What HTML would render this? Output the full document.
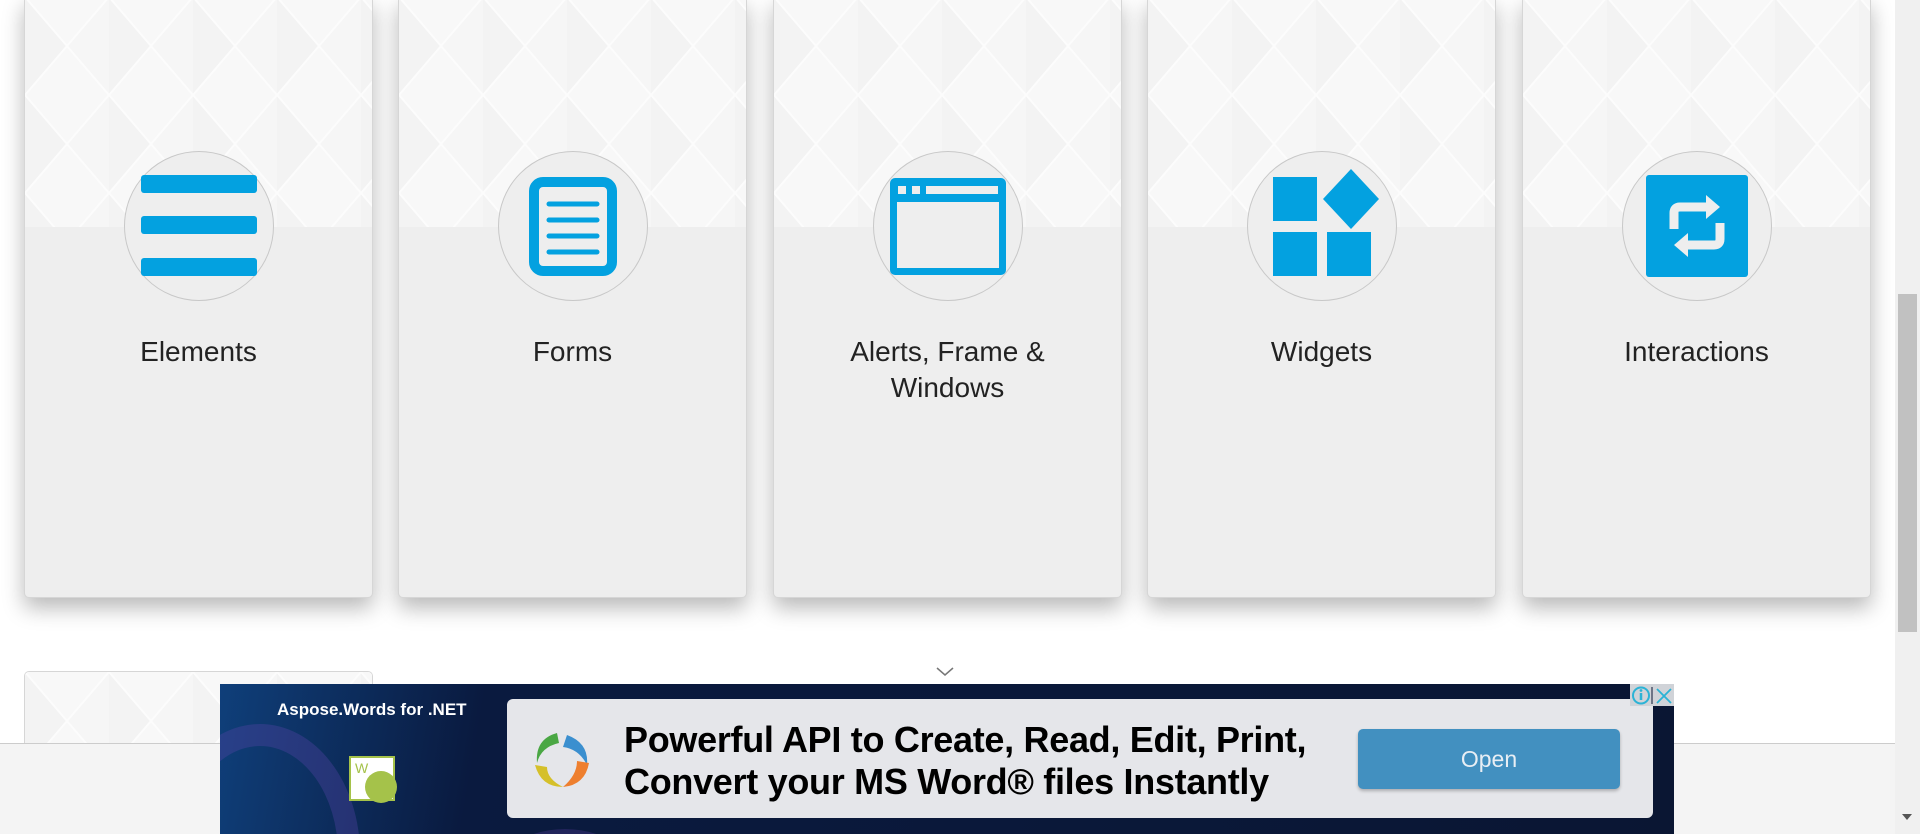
<!DOCTYPE html>
<html><head><meta charset="utf-8"><style>
*{margin:0;padding:0;box-sizing:border-box}
html,body{width:1920px;height:834px;overflow:hidden}
body{background:#fff;position:relative;font-family:"Liberation Sans",sans-serif}
.card{position:absolute;top:-4px;width:349px;height:602px;background:#eee;border:1px solid #d6d6d6;border-radius:5px;box-shadow:0 10px 22px rgba(0,0,0,.28);overflow:hidden}
.pat{position:absolute;left:0;top:0;width:100%;height:230px;background:#f8f8f8}
.circ{position:absolute;left:99px;top:154px;width:150px;height:150px;border-radius:50%;border:1px solid #c8c8c8;background:#eee}
.circ svg{position:absolute;left:-1px;top:-1px}
.t{position:absolute;left:0;width:100%;top:337px;text-align:center;font-size:28px;line-height:36px;color:#222}
</style></head><body>
<svg width="0" height="0" style="position:absolute"><defs>
<pattern id="tri" width="84" height="98" patternUnits="userSpaceOnUse">
<polygon points="0,0 42,49 0,98" fill="#efefef"/><polygon points="84,0 42,49 84,98" fill="#f4f4f4"/>
<line x1="0" y1="0" x2="84" y2="98" stroke="#fff" stroke-width="2"/><line x1="84" y1="0" x2="0" y2="98" stroke="#fff" stroke-width="2"/>
</pattern></defs></svg>

<div class="card" style="left:24px"><svg class="pat" width="349" height="230"><rect width="349" height="230" fill="#f8f8f8"/><rect width="349" height="230" fill="url(#tri)" opacity=".6"/></svg>
<div class="circ"><svg width="150" height="150"><rect x="17" y="24" width="116" height="18" rx="3" fill="#03a1e0"/><rect x="17" y="65" width="116" height="18" rx="3" fill="#03a1e0"/><rect x="17" y="107" width="116" height="18" rx="3" fill="#03a1e0"/></svg></div>
<div class="t">Elements</div></div>

<div class="card" style="left:398px"><svg class="pat" width="349" height="230"><rect width="349" height="230" fill="#f8f8f8"/><rect width="349" height="230" fill="url(#tri)" opacity=".6"/></svg>
<div class="circ"><svg width="150" height="150"><rect x="36" y="31" width="78" height="89" rx="9" fill="none" stroke="#03a1e0" stroke-width="10"/><g stroke="#03a1e0" stroke-width="5" stroke-linecap="round"><line x1="51" y1="53" x2="99" y2="53"/><line x1="51" y1="69" x2="99" y2="69"/><line x1="51" y1="85" x2="99" y2="85"/><line x1="51" y1="101" x2="99" y2="101"/></g></svg></div>
<div class="t">Forms</div></div>

<div class="card" style="left:773px"><svg class="pat" width="349" height="230"><rect width="349" height="230" fill="#f8f8f8"/><rect width="349" height="230" fill="url(#tri)" opacity=".6"/></svg>
<div class="circ"><svg width="150" height="150"><rect x="17" y="27" width="116" height="97" rx="5" fill="#03a1e0"/><rect x="24" y="51" width="102" height="66" fill="#eee"/><rect x="25" y="35" width="8" height="8" fill="#eee"/><rect x="39" y="35" width="8" height="8" fill="#eee"/><rect x="53" y="35" width="72" height="8" fill="#eee"/></svg></div>
<div class="t">Alerts, Frame &amp;<br>Windows</div></div>

<div class="card" style="left:1147px"><svg class="pat" width="349" height="230"><rect width="349" height="230" fill="#f8f8f8"/><rect width="349" height="230" fill="url(#tri)" opacity=".6"/></svg>
<div class="circ"><svg width="150" height="150"><rect x="26" y="26" width="44" height="44" fill="#03a1e0"/><rect x="26" y="81" width="44" height="44" fill="#03a1e0"/><rect x="80" y="81" width="44" height="44" fill="#03a1e0"/><polygon points="104,18 132,48 104,78 76,48" fill="#03a1e0"/></svg></div>
<div class="t">Widgets</div></div>

<div class="card" style="left:1522px"><svg class="pat" width="349" height="230"><rect width="349" height="230" fill="#f8f8f8"/><rect width="349" height="230" fill="url(#tri)" opacity=".6"/></svg>
<div class="circ"><svg width="150" height="150"><rect x="24" y="24" width="102" height="102" rx="3" fill="#03a1e0"/><path d="M52 78 V62 Q52 56 58 56 H86" fill="none" stroke="#eee" stroke-width="9"/><polygon points="84,44 98,56 84,68" fill="#eee"/><path d="M98 72 V88 Q98 94 92 94 H64" fill="none" stroke="#eee" stroke-width="9"/><polygon points="66,82 52,94 66,106" fill="#eee"/></svg></div>
<div class="t">Interactions</div></div>

<div class="card" style="left:24px;top:671px;height:150px;box-shadow:none"><svg class="pat" width="349" height="230"><rect width="349" height="230" fill="#f8f8f8"/><rect width="349" height="230" fill="url(#tri)" opacity=".6"/></svg></div>

<svg style="position:absolute;left:935px;top:666px" width="20" height="12"><polyline points="2,2 10,9 18,2" fill="none" stroke="#777" stroke-width="1.5"/></svg>

<div style="position:absolute;left:0;top:743px;width:1895px;height:91px;background:#f4f4f4;border-top:1px solid #ccc"></div>

<div style="position:absolute;left:1895px;top:0;width:25px;height:834px;background:#f0f0f0"></div>
<div style="position:absolute;left:1898px;top:294px;width:19px;height:338px;background:#c1c1c1"></div>
<svg style="position:absolute;left:1900px;top:812px" width="14" height="10"><polygon points="2,2 12,2 7,8" fill="#555"/></svg>

<div style="position:absolute;left:220px;top:684px;width:1454px;height:150px;background:linear-gradient(100deg,#0f3f7a 0%,#0a1a3f 18%,#0a1633 100%);overflow:hidden">
 <div style="position:absolute;left:-60px;top:40px;width:200px;height:260px;border-radius:50%;border:22px solid rgba(90,70,170,.35)"></div>
 <div style="position:absolute;left:245px;top:145px;width:200px;height:200px;border-radius:50%;border:18px solid rgba(90,60,160,.3)"></div>
 <div style="position:absolute;left:57px;top:16px;color:#fff;font-weight:bold;font-size:17px">Aspose.Words for .NET</div>
 <div style="position:absolute;left:129px;top:72px;width:46px;height:45px;background:#fff;border:2px solid #a5c24a"><span style="position:absolute;left:4px;top:2px;color:#a5c24a;font-size:14px">W</span><div style="position:absolute;left:14px;top:13px;width:32px;height:32px;border-radius:50%;background:#a5c24a"></div></div>
 <div style="position:absolute;left:287px;top:15px;width:1146px;height:119px;background:#e5e6ea;border-radius:6px">
  <svg style="position:absolute;left:20px;top:30px" width="66" height="62"><path d="M30 4 Q8 10 10 34 Q14 18 32 14Z" fill="#4aa744"/><path d="M40 6 Q62 14 60 36 Q52 20 36 18Z" fill="#3b8fcf"/><path d="M62 34 Q58 56 36 58 Q50 46 50 32Z" fill="#ee7f2f"/><path d="M8 36 Q14 58 36 58 Q20 50 20 38Z" fill="#d5c02a"/></svg>
  <div style="position:absolute;left:117px;top:20px;font-weight:bold;font-size:36px;line-height:42px;color:#000;letter-spacing:-0.3px;white-space:nowrap">Powerful API to Create, Read, Edit, Print,<br>Convert your MS Word® files Instantly</div>
  <div style="position:absolute;left:851px;top:30px;width:262px;height:60px;background:#4290c0;border-radius:5px;box-shadow:0 2px 3px rgba(0,0,0,.25);color:#e8eef4;font-size:23px;text-align:center;line-height:60px">Open</div>
 </div>
 <div style="position:absolute;left:1410px;top:0;width:44px;height:22px;background:#d0d3d8"></div>
 <svg style="position:absolute;left:1411px;top:1px" width="44" height="21"><circle cx="10" cy="10.5" r="8" fill="none" stroke="#2bb3d6" stroke-width="2"/><line x1="10" y1="8" x2="10" y2="15" stroke="#2bb3d6" stroke-width="2.5"/><circle cx="10" cy="5.5" r="1.4" fill="#2bb3d6"/><line x1="21" y1="2" x2="21" y2="19" stroke="#0a1633" stroke-width="1"/><path d="M26 4 L40 18 M40 4 L26 18" stroke="#2bb3d6" stroke-width="1.8"/></svg>
</div>
</body></html>
